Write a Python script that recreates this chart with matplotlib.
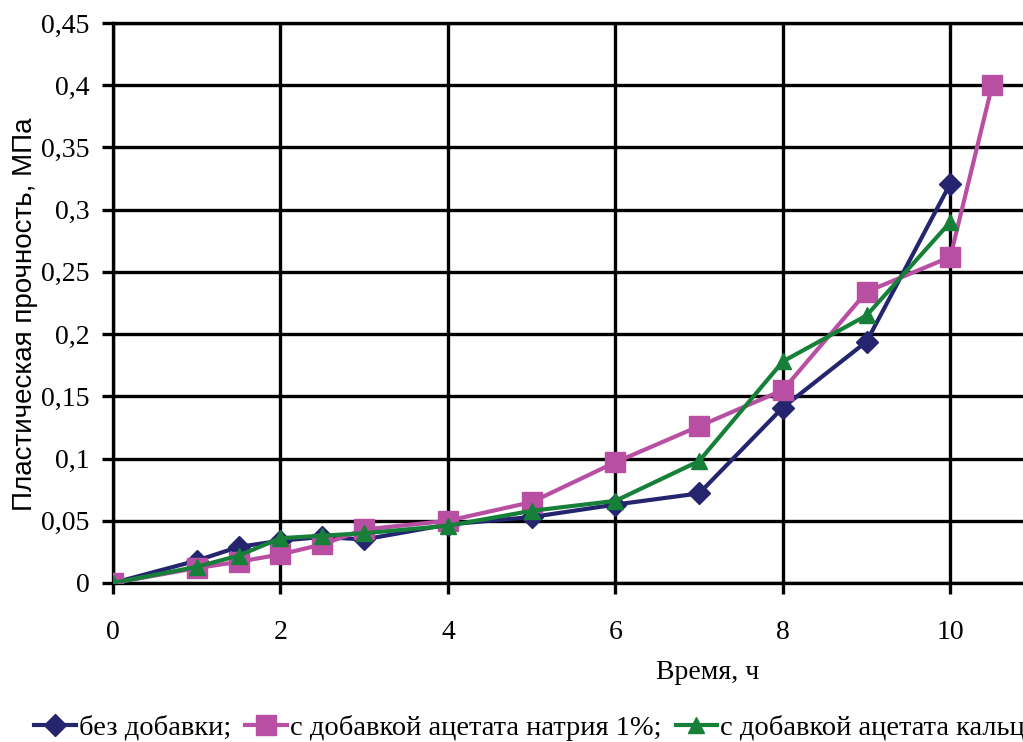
import matplotlib.pyplot as plt

# time, h
x_blue = [0, 1, 1.5, 2, 2.5, 3, 4, 5, 6, 7, 8, 9, 10]
y_blue = [0, 0.018, 0.029, 0.034, 0.037, 0.035, 0.047, 0.053, 0.063, 0.072, 0.141, 0.194, 0.321]

x_mag = [0, 1, 1.5, 2, 2.5, 3, 4, 5, 6, 7, 8, 9, 10, 10.5]
y_mag = [0, 0.012, 0.017, 0.023, 0.031, 0.043, 0.050, 0.065, 0.097, 0.126, 0.155, 0.234, 0.262, 0.400]

x_green = [0, 1, 1.5, 2, 2.5, 3, 4, 5, 6, 7, 8, 9, 10]
y_green = [0, 0.013, 0.022, 0.036, 0.038, 0.040, 0.046, 0.058, 0.066, 0.098, 0.178, 0.215, 0.290]

labels = ["без добавки;", "с добавкой ацетата натрия 1%;", "с добавкой ацетата кальция 1%"]
xticks = [0, 2, 4, 6, 8, 10]
yticks = [0, 0.05, 0.1, 0.15, 0.2, 0.25, 0.3, 0.35, 0.4, 0.45]
ytick_labels = ["0", "0,05", "0,1", "0,15", "0,2", "0,25", "0,3", "0,35", "0,4", "0,45"]

serif = "Liberation Serif"

fig = plt.figure(figsize=(10.23, 7.42), dpi=100)
ax = fig.add_axes([0.1105, 0.2143, 0.9003, 0.7547])

ax.plot(x_blue, y_blue, color="#25256f", lw=3, marker="D", ms=11, label=labels[0], zorder=3)
ax.plot(x_mag, y_mag, color="#b94fa3", lw=3, marker="s", ms=14, label=labels[1], zorder=4)
ax.plot(x_green, y_green, color="#178038", lw=3, marker="^", ms=12, label=labels[2], zorder=5)

ax.set_xlim(0, 11)
ax.set_ylim(0, 0.45)
ax.set_xticks(xticks)
ax.set_yticks(yticks)
ax.set_yticklabels(ytick_labels)
ax.grid(True, color="black", lw=2.4)
for s in ax.spines.values():
    s.set_linewidth(2.4)
ax.tick_params(direction="out", length=8, width=2.4)
for lab in ax.get_xticklabels() + ax.get_yticklabels():
    lab.set_fontfamily(serif)
    lab.set_fontsize(20)
ax.tick_params(axis="x", pad=19)
ax.tick_params(axis="y", pad=9)

ax.set_ylabel("Пластическая прочность, МПа", fontsize=20, family="Liberation Sans")
ax.yaxis.set_label_coords(-0.082, 0.48)
fig.text(0.692, 0.094, "Время, ч", fontsize=20, family=serif, ha="center", va="center")

fig.legend(loc="lower left", bbox_to_anchor=(0.022, -0.014), ncol=3, frameon=False,
           prop={"family": serif, "size": 20.5}, handlelength=1.47, handletextpad=0.1,
           columnspacing=0.5, borderaxespad=0)

fig.savefig("out.png", dpi=100)
